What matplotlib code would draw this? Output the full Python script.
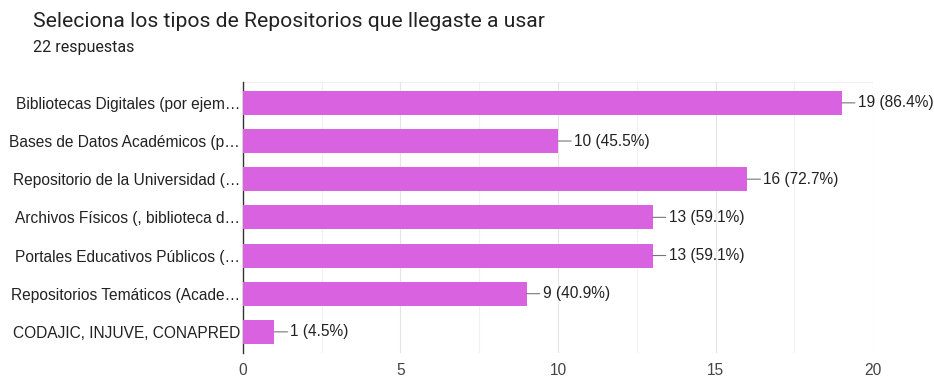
import matplotlib
matplotlib.use("Agg")
import matplotlib.pyplot as plt
from matplotlib.ticker import MultipleLocator

plt.rcParams['font.family'] = ['Liberation Sans', 'DejaVu Sans']

title = "Seleciona los tipos de Repositorios que llegaste a usar"
subtitle = "22 respuestas"
categories = [
    "Bibliotecas Digitales (por ejem…",
    "Bases de Datos Académicos (p…",
    "Repositorio de la Universidad (…",
    "Archivos Físicos (, biblioteca d…",
    "Portales Educativos Públicos (…",
    "Repositorios Temáticos (Acade…",
    "CODAJIC, INJUVE, CONAPRED",
]
counts = [19, 10, 16, 13, 13, 9, 1]
total = 22
x_ticks = [0, 5, 10, 15, 20]

bar_color = "#d862e0"
text_color = "#222222"

fig = plt.figure(figsize=(9.34, 3.79), dpi=100)
ax = fig.add_axes([0.260, 0.069, 0.675, 0.715])

y = list(range(len(categories)))
ax.barh(y, counts, height=0.63, color=bar_color, zorder=3)

for yi, c in zip(y, counts):
    ax.annotate(f"{c} ({c / total * 100:.1f}%)", xy=(c, yi), xytext=(11.5, 0),
                textcoords="offset points", va="center", ha="left",
                fontsize=11.2, color=text_color,
                arrowprops=dict(arrowstyle="-", color="#777777", lw=0.8,
                                shrinkA=0, shrinkB=0))

ax.set_xlim(0, 20)
ax.set_ylim(len(categories) - 0.45, -0.55)
ax.set_yticks(y)
ax.set_yticklabels(categories, fontsize=11.2, color=text_color)
ax.set_xticks(x_ticks)
ax.set_xticklabels([str(t) for t in x_ticks], fontsize=11.2, color="#444444")
ax.xaxis.set_minor_locator(MultipleLocator(2.5))
ax.grid(axis="x", which="major", color="#e4e4e4", lw=0.8, zorder=0)
ax.grid(axis="x", which="minor", color="#f0f0f0", lw=0.8, zorder=0)
ax.tick_params(axis="both", which="both", length=0, pad=2)
ax.tick_params(axis="x", pad=7)
for side in ["top", "right", "bottom"]:
    ax.spines[side].set_visible(False)
ax.spines["left"].set_color("#333333")
ax.spines["left"].set_linewidth(1.0)
ax.axhline(-0.55, color="#eeeeee", lw=0.8, zorder=0)
ax.axhline(len(categories) - 0.45, color="#eeeeee", lw=0.8, zorder=0)

fig.text(0.035, 0.943, title, fontsize=15.2, color=text_color, va="center",
         family=["Roboto", "DejaVu Sans"])
fig.text(0.035, 0.875, subtitle, fontsize=11.5, color=text_color, va="center",
         family=["Roboto", "DejaVu Sans"])

fig.savefig("out.png", dpi=100)
